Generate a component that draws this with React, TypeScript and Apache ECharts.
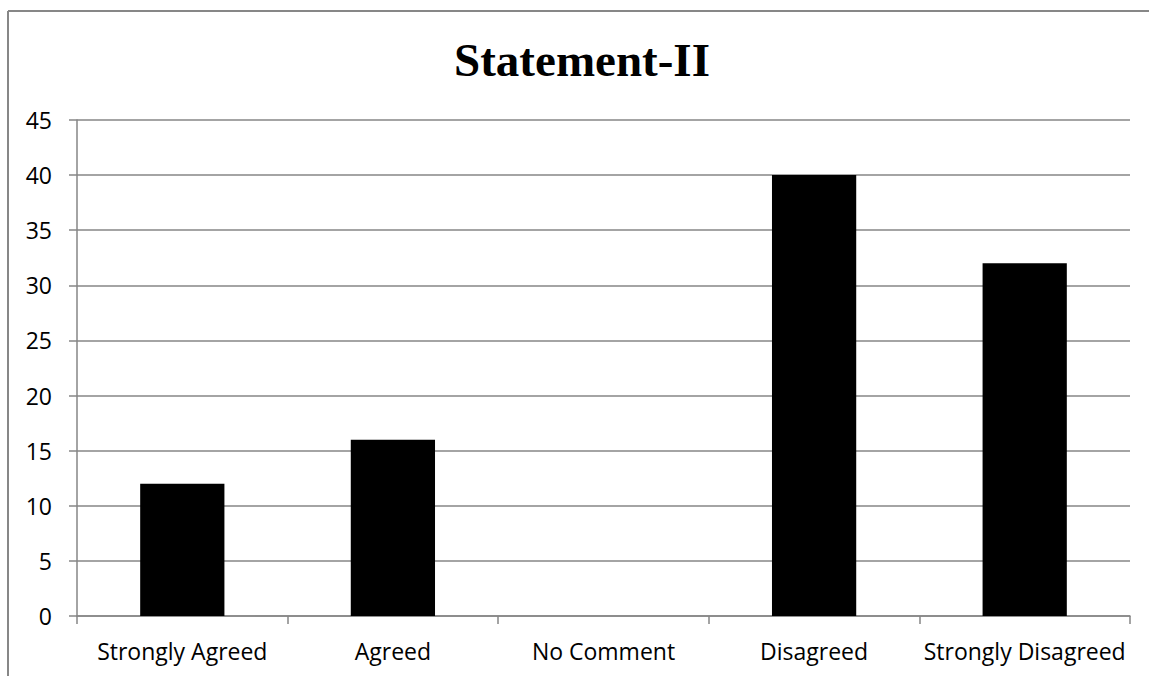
import React, { useEffect, useRef } from "react";
import * as echarts from "echarts";

const categories = ["Strongly Agreed", "Agreed", "No Comment", "Disagreed", "Strongly Disagreed"];
const values = [12, 16, 0, 40, 32];
const titleText = "Statement-II";

export default function App() {
  const ref = useRef<HTMLDivElement>(null);
  useEffect(() => {
    if (!ref.current) return;
    const chart = echarts.init(ref.current, undefined, { renderer: "svg" });
    chart.setOption({
      animation: false,
      backgroundColor: "#ffffff",
      title: {
        text: titleText,
        left: 577,
        textAlign: "center",
        top: 31,
        textStyle: {
          fontFamily: "Liberation Serif",
          fontWeight: "bold",
          fontSize: 47,
          color: "#000000",
        },
      },
      graphic: [
        { type: "line", shape: { x1: 8, y1: 11, x2: 1149, y2: 11 }, style: { stroke: "#878787", lineWidth: 2 } },
        { type: "line", shape: { x1: 8, y1: 11, x2: 8, y2: 676 }, style: { stroke: "#878787", lineWidth: 2 } },
      ],
      grid: { left: 77, top: 120, right: 19, bottom: 60, containLabel: false },
      xAxis: {
        type: "category",
        data: categories,
        boundaryGap: true,
        axisLine: { show: true, lineStyle: { color: "#868686", width: 1.5 } },
        axisTick: { show: true, length: 8, alignWithLabel: false, lineStyle: { color: "#868686", width: 1.5 } },
        axisLabel: { color: "#000000", fontFamily: "Open Sans", fontSize: 23, margin: 23, interval: 0 },
        splitLine: { show: false },
      },
      yAxis: {
        type: "value",
        min: 0,
        max: 45,
        interval: 5,
        axisLine: { show: true, lineStyle: { color: "#868686", width: 1.5 } },
        axisTick: { show: true, length: 8, lineStyle: { color: "#868686", width: 1.5 } },
        axisLabel: { color: "#000000", fontFamily: "Open Sans", fontSize: 23, margin: 25 },
        splitLine: { show: true, lineStyle: { color: "#868686", width: 1.5 } },
      },
      series: [
        {
          type: "bar",
          data: values,
          barWidth: "40%",
          itemStyle: { color: "#000000" },
        },
      ],
    });
    return () => chart.dispose();
  }, []);
  return <div ref={ref} style={{ position: "fixed", left: 0, top: 0, width: 1149, height: 676 }} />;
}
